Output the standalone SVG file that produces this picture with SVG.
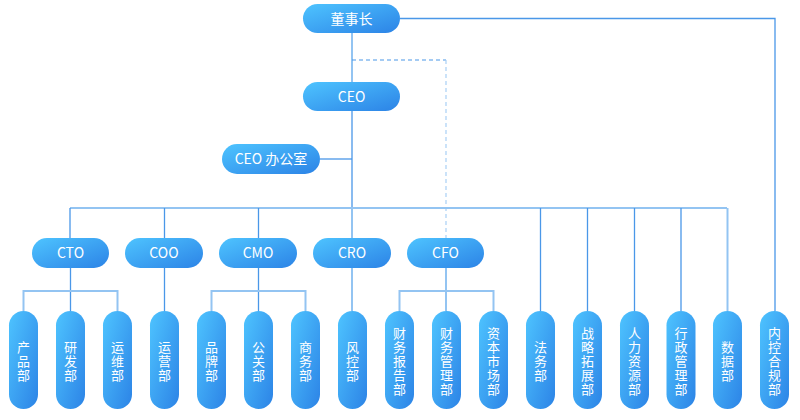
<svg xmlns="http://www.w3.org/2000/svg" width="800" height="420" viewBox="0 0 800 420">
<style>
.n{fill:url(#g);}
.t{fill:#fff;font-family:"Noto Sans CJK SC","Noto Sans",sans-serif;font-size:14px;text-anchor:middle;}
.v{fill:#fff;font-family:"Noto Sans CJK SC","Noto Sans",sans-serif;font-size:13px;text-anchor:middle;}
.l{fill:none;stroke:#4a97e8;stroke-width:1.3;}
.lb{fill:none;stroke:#93c4f2;stroke-width:2;}
.d{fill:none;stroke:#4a97e8;stroke-width:1.2;stroke-dasharray:4 3;}
.dl{fill:none;stroke:#a9d0f5;stroke-width:1.2;stroke-dasharray:4 3;}
</style>
<defs>
<linearGradient id="g" x1="0" y1="0" x2="1" y2="1">
<stop offset="0" stop-color="#4ec4ff"/>
<stop offset="1" stop-color="#2c83e6"/>
</linearGradient>
</defs>
<rect width="800" height="420" fill="#fff"/>
<g id="connectors">
<path class="l" d="M400 18.5H775V311"/>
<path class="lb" d="M352 33V82"/>
<path class="l" d="M352 111V208"/>
<path class="lb" d="M352 208V238"/>
<path class="d" d="M352 60H446"/>
<path class="dl" d="M446 60V238"/>
<path class="l" d="M320 159H352"/>
<path class="lb" d="M70 208H727"/>
<path class="l" d="M70 208V238M164.5 208V238M258.5 208V238M540.5 208V311M587.5 208V311M634.5 208V311M681 208V311"/>
<path class="lb" d="M727.5 208V311"/>
<path class="l" d="M70.5 268V311M164.5 268V311M258.5 268V311"/>
<path class="lb" d="M352 268V311M446 268V311"/>
<path class="lb" d="M23.5 311V291H117.5V311M211.5 311V291H305.5V311M399.5 311V291H493.5V311"/>
</g>
<g id="n-dongshizhang"><rect class="n" x="303" y="4" width="97" height="29" rx="14.5"/><text class="t" x="351.5" y="23.5">董事长</text></g>
<g id="n-ceo"><rect class="n" x="303" y="82" width="97" height="29" rx="14.5"/><text class="t" x="351.5" y="101.5">CEO</text></g>
<g id="n-ceo-office"><rect class="n" x="222" y="144" width="98" height="30" rx="15"/><text class="t" x="271" y="164">CEO 办公室</text></g>
<g id="n-cto"><rect class="n" x="32" y="238" width="77" height="30" rx="15"/><text class="t" x="70.5" y="258">CTO</text></g>
<g id="n-coo"><rect class="n" x="125" y="238" width="78" height="30" rx="15"/><text class="t" x="164" y="258">COO</text></g>
<g id="n-cmo"><rect class="n" x="219" y="238" width="78" height="30" rx="15"/><text class="t" x="258" y="258">CMO</text></g>
<g id="n-cro"><rect class="n" x="313" y="238" width="78" height="30" rx="15"/><text class="t" x="352" y="258">CRO</text></g>
<g id="n-cfo"><rect class="n" x="407" y="238" width="77" height="30" rx="15"/><text class="t" x="445.5" y="258">CFO</text></g>
<g id="n-chanpin"><rect class="n" x="9" y="311" width="29" height="98" rx="14.5"/><text class="v" x="23.5" y="352"><tspan x="23.5">产</tspan><tspan x="23.5" dy="14">品</tspan><tspan x="23.5" dy="14">部</tspan></text></g>
<g id="n-yanfa"><rect class="n" x="56" y="311" width="29" height="98" rx="14.5"/><text class="v" x="70.5" y="352"><tspan x="70.5">研</tspan><tspan x="70.5" dy="14">发</tspan><tspan x="70.5" dy="14">部</tspan></text></g>
<g id="n-yunwei"><rect class="n" x="103" y="311" width="29" height="98" rx="14.5"/><text class="v" x="117.5" y="352"><tspan x="117.5">运</tspan><tspan x="117.5" dy="14">维</tspan><tspan x="117.5" dy="14">部</tspan></text></g>
<g id="n-yunying"><rect class="n" x="150" y="311" width="29" height="98" rx="14.5"/><text class="v" x="164.5" y="352"><tspan x="164.5">运</tspan><tspan x="164.5" dy="14">营</tspan><tspan x="164.5" dy="14">部</tspan></text></g>
<g id="n-pinpai"><rect class="n" x="197" y="311" width="29" height="98" rx="14.5"/><text class="v" x="211.5" y="352"><tspan x="211.5">品</tspan><tspan x="211.5" dy="14">牌</tspan><tspan x="211.5" dy="14">部</tspan></text></g>
<g id="n-gongguan"><rect class="n" x="244" y="311" width="29" height="98" rx="14.5"/><text class="v" x="258.5" y="352"><tspan x="258.5">公</tspan><tspan x="258.5" dy="14">关</tspan><tspan x="258.5" dy="14">部</tspan></text></g>
<g id="n-shangwu"><rect class="n" x="291" y="311" width="29" height="98" rx="14.5"/><text class="v" x="305.5" y="352"><tspan x="305.5">商</tspan><tspan x="305.5" dy="14">务</tspan><tspan x="305.5" dy="14">部</tspan></text></g>
<g id="n-fengkong"><rect class="n" x="338" y="311" width="29" height="98" rx="14.5"/><text class="v" x="352.5" y="352"><tspan x="352.5">风</tspan><tspan x="352.5" dy="14">控</tspan><tspan x="352.5" dy="14">部</tspan></text></g>
<g id="n-caiwubaogao"><rect class="n" x="385" y="311" width="29" height="98" rx="14.5"/><text class="v" x="399.5" y="338"><tspan x="399.5">财</tspan><tspan x="399.5" dy="14">务</tspan><tspan x="399.5" dy="14">报</tspan><tspan x="399.5" dy="14">告</tspan><tspan x="399.5" dy="14">部</tspan></text></g>
<g id="n-caiwuguanli"><rect class="n" x="432" y="311" width="29" height="98" rx="14.5"/><text class="v" x="446.5" y="338"><tspan x="446.5">财</tspan><tspan x="446.5" dy="14">务</tspan><tspan x="446.5" dy="14">管</tspan><tspan x="446.5" dy="14">理</tspan><tspan x="446.5" dy="14">部</tspan></text></g>
<g id="n-ziben"><rect class="n" x="479" y="311" width="29" height="98" rx="14.5"/><text class="v" x="493.5" y="338"><tspan x="493.5">资</tspan><tspan x="493.5" dy="14">本</tspan><tspan x="493.5" dy="14">市</tspan><tspan x="493.5" dy="14">场</tspan><tspan x="493.5" dy="14">部</tspan></text></g>
<g id="n-fawu"><rect class="n" x="526" y="311" width="29" height="98" rx="14.5"/><text class="v" x="540.5" y="352"><tspan x="540.5">法</tspan><tspan x="540.5" dy="14">务</tspan><tspan x="540.5" dy="14">部</tspan></text></g>
<g id="n-zhanlue"><rect class="n" x="573" y="311" width="29" height="98" rx="14.5"/><text class="v" x="587.5" y="338"><tspan x="587.5">战</tspan><tspan x="587.5" dy="14">略</tspan><tspan x="587.5" dy="14">拓</tspan><tspan x="587.5" dy="14">展</tspan><tspan x="587.5" dy="14">部</tspan></text></g>
<g id="n-renli"><rect class="n" x="620" y="311" width="29" height="98" rx="14.5"/><text class="v" x="634.5" y="338"><tspan x="634.5">人</tspan><tspan x="634.5" dy="14">力</tspan><tspan x="634.5" dy="14">资</tspan><tspan x="634.5" dy="14">源</tspan><tspan x="634.5" dy="14">部</tspan></text></g>
<g id="n-xingzheng"><rect class="n" x="666.5" y="311" width="29" height="98" rx="14.5"/><text class="v" x="681" y="338"><tspan x="681">行</tspan><tspan x="681" dy="14">政</tspan><tspan x="681" dy="14">管</tspan><tspan x="681" dy="14">理</tspan><tspan x="681" dy="14">部</tspan></text></g>
<g id="n-shuju"><rect class="n" x="713" y="311" width="29" height="98" rx="14.5"/><text class="v" x="727.5" y="352"><tspan x="727.5">数</tspan><tspan x="727.5" dy="14">据</tspan><tspan x="727.5" dy="14">部</tspan></text></g>
<g id="n-neikong"><rect class="n" x="760" y="311" width="29" height="98" rx="14.5"/><text class="v" x="774.5" y="338"><tspan x="774.5">内</tspan><tspan x="774.5" dy="14">控</tspan><tspan x="774.5" dy="14">合</tspan><tspan x="774.5" dy="14">规</tspan><tspan x="774.5" dy="14">部</tspan></text></g>
</svg>
